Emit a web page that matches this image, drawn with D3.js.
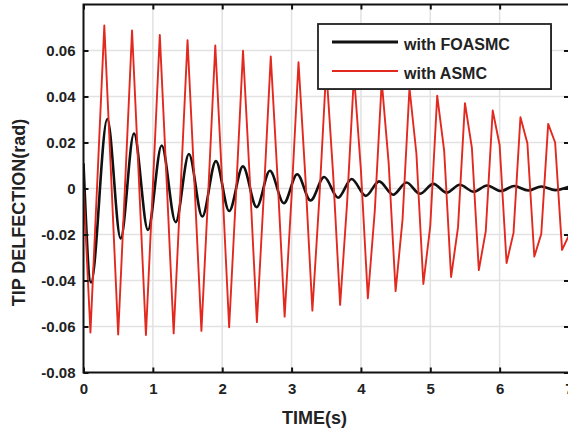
<!DOCTYPE html>
<html>
<head>
<meta charset="utf-8">
<script src="https://cdn.jsdelivr.net/npm/d3@7/dist/d3.min.js"></script>
<style>
html,body{margin:0;padding:0;background:#fff;}
svg{display:block;font-family:"Liberation Sans",Arial,sans-serif;}
</style>
</head>
<body>
<svg id="chart" width="568" height="431"></svg>
<script>
// ---- data ----
const xTicks = [0, 1, 2, 3, 4, 5, 6, 7];
const yTicks = [-0.08, -0.06, -0.04, -0.02, 0, 0.02, 0.04, 0.06];
const xTitle = "TIME(s)";
const yTitle = "TIP DELFECTION(rad)";
const seriesNames = ["with FOASMC", "with ASMC"];

// FOASMC (black): turning points of the damped oscillation
const foasmcTime = [0, 0.108, 0.343, 0.536, 0.728, 0.929, 1.127, 1.329, 1.52, 1.712, 1.909, 2.10, 2.298, 2.496, 2.687, 2.889, 3.081, 3.274, 3.47, 3.671, 3.865, 4.07, 4.262, 4.464, 4.657, 4.849, 5.045, 5.235, 5.425, 5.625, 5.82, 6.02, 6.21, 6.41, 6.602, 6.80, 6.99];
const foasmcValue = [0.011, -0.0409, 0.0302, -0.0217, 0.0239, -0.0180, 0.0187, -0.0146, 0.0150, -0.0122, 0.0119, -0.0098, 0.0096, -0.0081, 0.0077, -0.0064, 0.0062, -0.0052, 0.0050, -0.0040, 0.0041, -0.0032, 0.0031, -0.0027, 0.0026, -0.0023, 0.0020, -0.0018, 0.0016, -0.0014, 0.0013, -0.0011, 0.0011, -0.0009, 0.0009, -0.0007, 0.0007];

// ASMC (red): samples every 0.1 s
const asmcTime = [0.0,0.1,0.2,0.3,0.4,0.5,0.6,0.7,0.8,0.9,1.0,1.1,1.2,1.3,1.4,1.5,1.6,1.7,1.8,1.9,2.0,2.1,2.2,2.3,2.4,2.5,2.6,2.7,2.8,2.9,3.0,3.1,3.2,3.3,3.4,3.5,3.6,3.7,3.8,3.9,4.0,4.1,4.2,4.3,4.4,4.5,4.6,4.7,4.8,4.9,5.0,5.1,5.2,5.3,5.4,5.5,5.6,5.7,5.8,5.9,6.0,6.1,6.2,6.3,6.4,6.5,6.6,6.7,6.8,6.9,7.0];
const asmcValue = [
  0.0000, -0.0626, 0.0037, 0.0709, 0.0042, -0.0635, 0.0021, 0.0687, 0.0030, -0.0637,
  0.0010, 0.0668, 0.0025, -0.0630, 0.0000, 0.0645, 0.0023, -0.0619, -0.0010, 0.0622,
  0.0022, -0.0603, -0.0017, 0.0599, 0.0027, -0.0581, -0.0024, 0.0574, 0.0034, -0.0557,
  -0.0034, 0.0549, 0.0044, -0.0531, -0.0045, 0.0522, 0.0058, -0.0506, -0.0066, 0.0494,
  0.0079, -0.0477, -0.0096, 0.0466, 0.0110, -0.0446, -0.0135, 0.0437, 0.0151, -0.0415,
  -0.0162, 0.0403, 0.0165, -0.0385, -0.0168, 0.0371, 0.0176, -0.0355, -0.0185, 0.0339,
  0.0188, -0.0324, -0.0193, 0.0310, 0.0197, -0.0296, -0.0198, 0.0281, 0.0200, -0.0267,
  -0.0203
];

// ---- drawing ----
const svg = d3.select("#chart");
const L = 83.5, R = 569, T = 4.5, B = 372.5;
const x = d3.scaleLinear().domain([0, 7]).range([L, R]);
const y = d3.scaleLinear().domain([-0.08, 0.08]).range([B, T]);

svg.append("rect").attr("width", 568).attr("height", 431).attr("fill", "#fff");

// grid
const grid = svg.append("g").attr("stroke", "#e2e2e2").attr("stroke-width", 1.5);
grid.selectAll("line.gx").data(xTicks.filter(d => d > 0 && d < 7)).join("line")
  .attr("x1", d => x(d)).attr("x2", d => x(d)).attr("y1", T).attr("y2", B);
grid.selectAll("line.gy").data(yTicks.filter(d => d > -0.08)).join("line")
  .attr("y1", d => y(d)).attr("y2", d => y(d)).attr("x1", L).attr("x2", R);

// lines
svg.append("clipPath").attr("id", "clip").append("rect")
  .attr("x", L).attr("y", T).attr("width", R - L).attr("height", B - T);
const plot = svg.append("g").attr("clip-path", "url(#clip)");

const blackData = foasmcTime.map((t, i) => [t, foasmcValue[i]]);
const redData = asmcTime.map((t, i) => [t, asmcValue[i]]);

plot.append("path").datum(blackData)
  .attr("fill", "none").attr("stroke", "#111").attr("stroke-width", 2.6)
  .attr("stroke-linejoin", "round")
  .attr("d", d3.line().x(d => x(d[0])).y(d => y(d[1])).curve(d3.curveMonotoneX));

plot.append("path").datum(redData)
  .attr("fill", "none").attr("stroke", "#e2291f").attr("stroke-width", 1.9)
  .attr("stroke-linejoin", "round")
  .attr("d", d3.line().x(d => x(d[0])).y(d => y(d[1])));

// axes
const fmtY = d => d === 0 ? "0" : d.toFixed(2);
const axisFont = g => g.selectAll("text")
  .attr("font-family", "'Liberation Sans', Arial, sans-serif")
  .attr("font-weight", "bold").attr("font-size", 15).attr("fill", "#222");

const gx = svg.append("g").attr("transform", `translate(0,${B})`)
  .call(d3.axisBottom(x).tickValues(xTicks).tickFormat(d3.format("d"))
    .tickSizeInner(-5).tickSizeOuter(0).tickPadding(11));
gx.select(".domain").remove();
gx.selectAll("line").attr("stroke", "#111").attr("stroke-width", 2);
axisFont(gx);

const gy = svg.append("g").attr("transform", `translate(${L},0)`)
  .call(d3.axisLeft(y).tickValues(yTicks).tickFormat(fmtY)
    .tickSizeInner(-5).tickSizeOuter(0).tickPadding(8));
gy.select(".domain").remove();
gy.selectAll("line").attr("stroke", "#111").attr("stroke-width", 2);
axisFont(gy);

const gxt = svg.append("g").attr("transform", `translate(0,${T})`)
  .call(d3.axisTop(x).tickValues(xTicks).tickFormat("").tickSizeInner(-5).tickSizeOuter(0));
gxt.select(".domain").remove();
gxt.selectAll("line").attr("stroke", "#111").attr("stroke-width", 2);

const gyr = svg.append("g").attr("transform", `translate(${R},0)`)
  .call(d3.axisRight(y).tickValues(yTicks).tickFormat("").tickSizeInner(-5).tickSizeOuter(0));
gyr.select(".domain").remove();
gyr.selectAll("line").attr("stroke", "#111").attr("stroke-width", 2);

// frame
svg.append("rect").attr("x", L).attr("y", T).attr("width", R - L).attr("height", B - T)
  .attr("fill", "none").attr("stroke", "#111").attr("stroke-width", 2);

// titles
svg.append("text").attr("x", 314.5).attr("y", 424).attr("text-anchor", "middle")
  .attr("font-weight", "bold").attr("font-size", 18).attr("fill", "#222").text(xTitle);
svg.append("text").attr("transform", "translate(25,212.5) rotate(-90)").attr("text-anchor", "middle")
  .attr("font-weight", "bold").attr("font-size", 18).attr("fill", "#222").text(yTitle);

// legend
const lg = svg.append("g");
lg.append("rect").attr("x", 319).attr("y", 25).attr("width", 233).attr("height", 65)
  .attr("fill", "#666");
lg.append("rect").attr("x", 318).attr("y", 24).attr("width", 233).attr("height", 65)
  .attr("fill", "#fff").attr("stroke", "#222").attr("stroke-width", 1.8);
const legendColors = ["#111", "#e2291f"];
const legendWidths = [3, 2];
const legendY = [42, 71];
seriesNames.forEach((name, i) => {
  lg.append("line").attr("x1", 332).attr("x2", 398).attr("y1", legendY[i]).attr("y2", legendY[i])
    .attr("stroke", legendColors[i]).attr("stroke-width", legendWidths[i]);
  lg.append("text").attr("x", 404).attr("y", legendY[i] + 2.5).attr("dy", "0.32em")
    .attr("font-weight", "bold").attr("font-size", 16).attr("fill", "#222").text(name);
});
</script>
</body>
</html>
